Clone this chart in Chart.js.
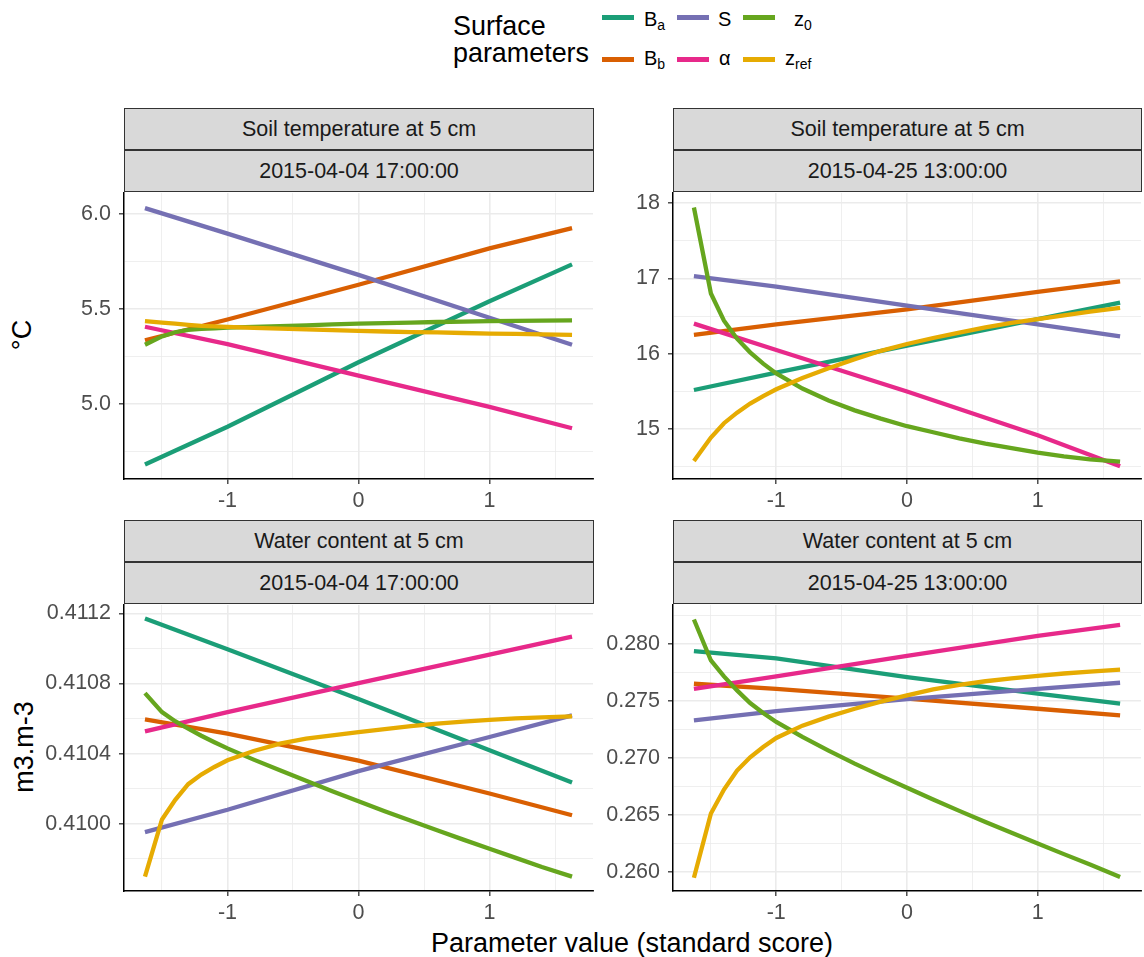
<!DOCTYPE html>
<html lang="en">
<head>
<meta charset="UTF-8">
<title>Sensitivity to surface parameters</title>
<script src="https://cdn.jsdelivr.net/npm/chart.js"></script>
<style>
  body { margin: 0; background: #fff; font-family: "Liberation Sans", Arial, sans-serif; }
  #page { position: relative; width: 1144px; height: 957px; overflow: hidden; }
  .panel { position: absolute; }
  .strip {
    position: absolute; box-sizing: border-box; height: 42px;
    background: #D9D9D9; border: 1px solid #333; color: #1A1A1A;
    font-size: 21.5px; line-height: 40px; text-align: center; white-space: nowrap;
  }
  .title { position: absolute; font-size: 27px; line-height: 30px; color: #000; white-space: nowrap; }
  .ytitle { transform: translate(-50%, -50%) rotate(-90deg); }
  .key { position: absolute; width: 32px; height: 4.5px; }
  .lab { position: absolute; font-size: 20px; line-height: 20px; color: #000; white-space: nowrap; }
  .lab sub { font-size: 14px; vertical-align: -4px; line-height: 0; }
</style>
</head>
<body>
<div id="page">
  <div class="title" style="left:453px; top:13px; line-height:27px; font-size:26.9px;">Surface<br>parameters</div>
  <div class="title ytitle" style="left:22px; top:335px;">°C</div>
  <div class="title ytitle" style="left:24px; top:747px;">m3.m-3</div>
  <div class="title" style="left:632px; top:928px; transform:translateX(-50%);">Parameter value (standard score)</div>
</div>

<script>
// x positions (standard score) of the computed points
const xLinear = [-1.63, -1, 0, 1, 1.63];
const xCurve = [-1.63, -1.5, -1.4, -1.3, -1.2, -1.1, -1, -0.8, -0.6, -0.4, -0.2, 0, 0.2, 0.4, 0.6, 0.8, 1, 1.2, 1.4, 1.63];
const xMajor = [-1, 0, 1];
const xMinor = [-1.5, -0.5, 0.5, 1.5];

// series: Ba, Bb, S, alpha, z0, zref
const seriesNames = ['B<sub>a</sub>', 'B<sub>b</sub>', 'S', '&alpha;', 'z<sub>0</sub>', 'z<sub>ref</sub>'];
const seriesColors = ['#1B9E77', '#D95F02', '#7570B3', '#E7298A', '#66A61E', '#E6AB02'];

// Soil temperature at 5 cm, 2015-04-04 17:00:00
const tempApr04Ba = [4.681, 4.880, 5.219, 5.540, 5.734];
const tempApr04Bb = [5.335, 5.444, 5.627, 5.818, 5.925];
const tempApr04S = [6.030, 5.896, 5.679, 5.453, 5.311];
const tempApr04Alpha = [5.406, 5.314, 5.149, 4.984, 4.872];
const tempApr04Z0 = [5.311, 5.355, 5.377, 5.389, 5.395, 5.398, 5.401, 5.405, 5.409, 5.413, 5.418, 5.422, 5.425, 5.428, 5.431, 5.433, 5.436, 5.437, 5.438, 5.439];
const tempApr04Zref = [5.436, 5.428, 5.422, 5.416, 5.411, 5.408, 5.405, 5.400, 5.396, 5.392, 5.388, 5.384, 5.381, 5.378, 5.376, 5.373, 5.370, 5.368, 5.366, 5.363];
const tempApr04Ticks = [5.0, 5.5, 6.0];
const tempApr04Minor = [4.75, 5.25, 5.75];

// Soil temperature at 5 cm, 2015-04-25 13:00:00
const tempApr25Ba = [15.52, 15.75, 16.11, 16.46, 16.68];
const tempApr25Bb = [16.25, 16.39, 16.59, 16.82, 16.96];
const tempApr25S = [17.03, 16.89, 16.64, 16.39, 16.23];
const tempApr25Alpha = [16.40, 16.05, 15.50, 14.92, 14.51];
const tempApr25Z0 = [17.94, 16.80, 16.44, 16.20, 16.02, 15.87, 15.74, 15.54, 15.38, 15.25, 15.14, 15.04, 14.96, 14.88, 14.81, 14.75, 14.69, 14.64, 14.60, 14.57];
const tempApr25Zref = [14.58, 14.89, 15.08, 15.22, 15.34, 15.44, 15.53, 15.68, 15.81, 15.93, 16.04, 16.13, 16.21, 16.28, 16.35, 16.41, 16.46, 16.51, 16.56, 16.61];
const tempApr25Ticks = [15, 16, 17, 18];
const tempApr25Minor = [14.5, 15.5, 16.5, 17.5];

// Water content at 5 cm, 2015-04-04 17:00:00
const waterApr04Ba = [0.411170, 0.410995, 0.410712, 0.410420, 0.410235];
const waterApr04Bb = [0.410595, 0.410514, 0.410360, 0.410173, 0.410049];
const waterApr04S = [0.409953, 0.410080, 0.410300, 0.410495, 0.410618];
const waterApr04Alpha = [0.410527, 0.410637, 0.410802, 0.410965, 0.411067];
const waterApr04Z0 = [0.410745, 0.410637, 0.410585, 0.410542, 0.410502, 0.410465, 0.410430, 0.410366, 0.410305, 0.410245, 0.410186, 0.410128, 0.410072, 0.410017, 0.409963, 0.409910, 0.409858, 0.409806, 0.409754, 0.409699];
const waterApr04Zref = [0.409699, 0.410025, 0.410135, 0.410226, 0.410281, 0.410324, 0.410362, 0.410415, 0.410457, 0.410485, 0.410504, 0.410523, 0.410540, 0.410557, 0.410571, 0.410582, 0.410593, 0.410601, 0.410607, 0.410612];
const waterApr04Ticks = [0.4100, 0.4104, 0.4108, 0.4112];
const waterApr04Minor = [0.4098, 0.4102, 0.4106, 0.4110];

// Water content at 5 cm, 2015-04-25 13:00:00
const waterApr25Ba = [0.27936, 0.27872, 0.27708, 0.27563, 0.27475];
const waterApr25Bb = [0.27650, 0.27606, 0.27519, 0.27431, 0.27373];
const waterApr25S = [0.27329, 0.27410, 0.27515, 0.27606, 0.27659];
const waterApr25Alpha = [0.27606, 0.27715, 0.27895, 0.28070, 0.28166];
const waterApr25Z0 = [0.28213, 0.27854, 0.27714, 0.27592, 0.27481, 0.27394, 0.27315, 0.27184, 0.27064, 0.26950, 0.26843, 0.26738, 0.26636, 0.26536, 0.26439, 0.26344, 0.26250, 0.26157, 0.26065, 0.25956];
const waterApr25Zref = [0.25950, 0.26513, 0.26723, 0.26889, 0.27006, 0.27096, 0.27175, 0.27283, 0.27362, 0.27431, 0.27493, 0.27548, 0.27600, 0.27640, 0.27672, 0.27698, 0.27720, 0.27740, 0.27757, 0.27773];
const waterApr25Ticks = [0.260, 0.265, 0.270, 0.275, 0.280];
const waterApr25Minor = [0.2625, 0.2675, 0.2725, 0.2775, 0.2825];

// L/R/T/B = plot area edges in page pixels
const panels = [
  { strips: ['Soil temperature at 5 cm', '2015-04-04 17:00:00'], L: 124, R: 593, T: 192, B: 479,
    yMin: 4.605, yMax: 6.11, ticks: tempApr04Ticks, minor: tempApr04Minor, digits: 1,
    series: [tempApr04Ba, tempApr04Bb, tempApr04S, tempApr04Alpha, tempApr04Z0, tempApr04Zref] },
  { strips: ['Soil temperature at 5 cm', '2015-04-25 13:00:00'], L: 673, R: 1141, T: 192, B: 479,
    yMin: 14.34, yMax: 18.134, ticks: tempApr25Ticks, minor: tempApr25Minor, digits: 0,
    series: [tempApr25Ba, tempApr25Bb, tempApr25S, tempApr25Alpha, tempApr25Z0, tempApr25Zref] },
  { strips: ['Water content at 5 cm', '2015-04-04 17:00:00'], L: 124, R: 593, T: 604, B: 891,
    yMin: 0.409617, yMax: 0.411248, ticks: waterApr04Ticks, minor: waterApr04Minor, digits: 4,
    series: [waterApr04Ba, waterApr04Bb, waterApr04S, waterApr04Alpha, waterApr04Z0, waterApr04Zref] },
  { strips: ['Water content at 5 cm', '2015-04-25 13:00:00'], L: 673, R: 1141, T: 604, B: 891,
    yMin: 0.258338, yMax: 0.283411, ticks: waterApr25Ticks, minor: waterApr25Minor, digits: 3,
    series: [waterApr25Ba, waterApr25Bb, waterApr25S, waterApr25Alpha, waterApr25Z0, waterApr25Zref] }
];

Chart.defaults.font.family = '"Liberation Sans", Arial, sans-serif';

const page = document.getElementById('page');
const AXIS_W = 100, AXIS_H = 40, PAD_TOP = 20, PAD_RIGHT = 4;

function isIn(v, list) {
  return list.some(m => Math.abs(m - v) < 1e-9);
}

function axisOptions(min, max, major, minor, label) {
  return {
    type: 'linear',
    min: min,
    max: max,
    bounds: 'data',
    afterBuildTicks: axis => {
      axis.ticks = major.concat(minor).sort((a, b) => a - b).map(v => ({ value: v }));
    },
    grid: {
      color: '#EBEBEB',
      lineWidth: ctx => (ctx.tick && isIn(ctx.tick.value, major)) ? 1.6 : 0.8,
      tickColor: ctx => (ctx.tick && isIn(ctx.tick.value, major)) ? '#333333' : 'rgba(0,0,0,0)',
      tickWidth: 1.3,
      tickLength: 5
    },
    border: { display: true, color: '#000', width: 1.5 },
    ticks: {
      autoSkip: false,
      maxRotation: 0,
      color: '#4D4D4D',
      font: { size: 21.5 },
      callback: v => isIn(v, major) ? label(v) : ''
    }
  };
}

panels.forEach(p => {
  // facet strips
  p.strips.forEach((text, k) => {
    const s = document.createElement('div');
    s.className = 'strip';
    s.style.left = p.L + 'px';
    s.style.width = (p.R - p.L + 1) + 'px';
    s.style.top = (p.T - 84 + k * 42) + 'px';
    s.textContent = text;
    page.appendChild(s);
  });

  const canvas = document.createElement('canvas');
  canvas.className = 'panel';
  canvas.width = p.R - p.L + AXIS_W + PAD_RIGHT;
  canvas.height = p.B - p.T + PAD_TOP + AXIS_H;
  canvas.style.left = (p.L - AXIS_W) + 'px';
  canvas.style.top = (p.T - PAD_TOP) + 'px';
  page.appendChild(canvas);

  // drawn in order Ba .. zref, zref on top
  const datasets = p.series.map((ys, i) => {
    const xs = ys.length === xLinear.length ? xLinear : xCurve;
    return {
      label: seriesNames[i],
      data: xs.map((x, j) => ({ x: x, y: ys[j] })),
      borderColor: seriesColors[i],
      borderWidth: 4.3,
      pointRadius: 0,
      tension: 0,
      fill: false,
      order: p.series.length - i
    };
  });

  const xAxis = axisOptions(-1.79, 1.79, xMajor, xMinor, v => String(v));
  xAxis.ticks.padding = 4;
  xAxis.afterFit = scale => { scale.height = AXIS_H; };

  const yAxis = axisOptions(p.yMin, p.yMax, p.ticks, p.minor, v => v.toFixed(p.digits));
  yAxis.ticks.padding = 8;
  yAxis.afterFit = scale => { scale.width = AXIS_W; };

  new Chart(canvas.getContext('2d'), {
    type: 'line',
    data: { datasets: datasets },
    options: {
      responsive: false,
      animation: false,
      layout: { padding: { top: PAD_TOP, right: PAD_RIGHT, bottom: 0, left: 0 } },
      plugins: { legend: { display: false }, tooltip: { enabled: false } },
      scales: { x: xAxis, y: yAxis }
    }
  });
});

// legend (two rows, three columns)
const keyPos = [[602, 15], [602, 57], [677, 15], [677, 57], [743, 15], [743, 57]];
const labPos = [[644, 9], [644, 48], [718, 9], [719, 48], [794, 9], [785, 48]];
seriesNames.forEach((name, i) => {
  const k = document.createElement('div');
  k.className = 'key';
  k.style.left = keyPos[i][0] + 'px';
  k.style.top = keyPos[i][1] + 'px';
  k.style.background = seriesColors[i];
  page.appendChild(k);

  const l = document.createElement('div');
  l.className = 'lab';
  l.style.left = labPos[i][0] + 'px';
  l.style.top = labPos[i][1] + 'px';
  l.innerHTML = name;
  page.appendChild(l);
});
</script>
</body>
</html>
